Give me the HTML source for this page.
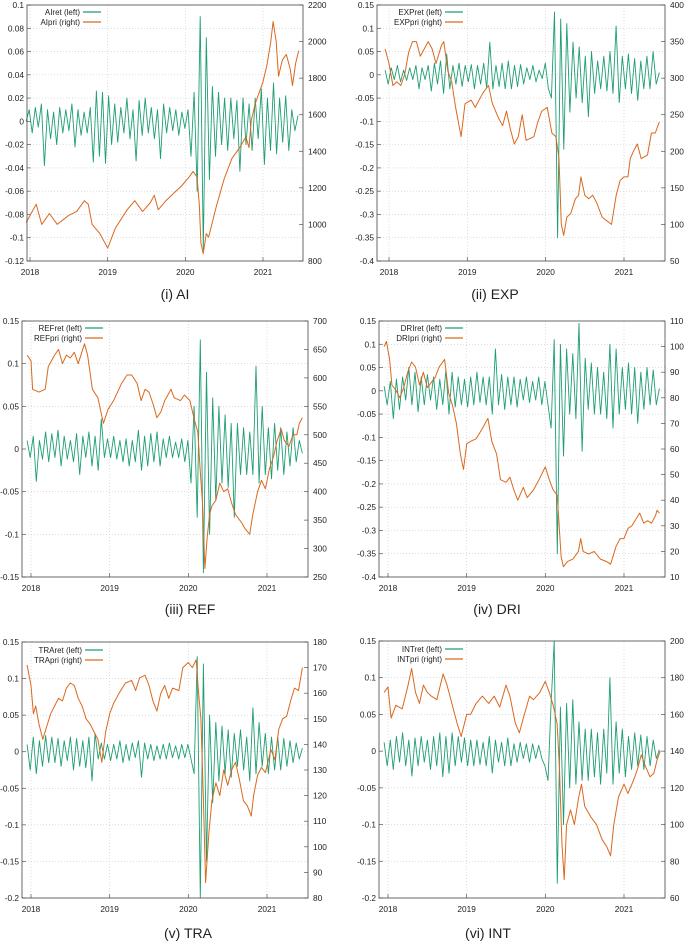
<!DOCTYPE html>
<html><head><meta charset="utf-8"><style>
html,body{margin:0;padding:0;background:#fff;width:685px;height:945px;overflow:hidden}
svg{display:block}
text{font-family:"Liberation Sans",sans-serif}
</style></head><body>
<svg id="fig" width="685" height="945" viewBox="0 0 685 945"></svg>
<script>
// ---- data ----
const aiPriDates=[2017.95,2018.08,2018.15,2018.25,2018.35,2018.5,2018.6,2018.7,2018.75,2018.8,2018.9,2019.0,2019.1,2019.25,2019.35,2019.45,2019.55,2019.6,2019.65,2019.75,2019.85,2019.95,2020.05,2020.1,2020.15,2020.18,2020.2,2020.23,2020.27,2020.3,2020.4,2020.5,2020.6,2020.7,2020.78,2020.82,2020.85,2020.9,2020.95,2021.0,2021.05,2021.1,2021.13,2021.17,2021.2,2021.25,2021.3,2021.35,2021.38,2021.42,2021.46];
const aiPri=[1010,1110,1000,1060,1000,1050,1070,1130,1110,1000,950,870,980,1080,1130,1070,1120,1160,1080,1130,1170,1210,1260,1290,1260,1110,900,840,950,930,1100,1250,1360,1420,1480,1420,1570,1660,1720,1780,1870,2000,2110,2000,1810,1900,1930,1850,1760,1880,1950];
const aiRet=[0,.01,-.01,.012,-.005,.015,-.038,.01,-.015,.008,-.02,.012,-.01,.01,-.008,.015,-.022,.01,-.012,.008,-.01,.012,-.035,.026,-.03,.025,-.036,.022,-.02,.015,-.018,.012,-.01,.02,-.015,.01,-.034,.018,-.012,.02,-.01,.012,-.015,.01,-.032,.015,-.01,.012,-.008,.01,-.012,.008,-.006,.01,-.03,.025,-.06,.09,-.11,.072,-.05,.03,-.03,.025,-.02,.02,-.025,.02,-.015,.018,-.043,.02,-.02,.015,-.025,.02,-.015,.028,-.037,.02,-.025,.033,-.028,.02,-.018,.022,-.025,.01,-.008,.005];

const expPriDates=[2017.95,2018.0,2018.05,2018.1,2018.15,2018.2,2018.25,2018.3,2018.35,2018.4,2018.45,2018.5,2018.55,2018.6,2018.67,2018.7,2018.75,2018.8,2018.85,2018.92,2018.97,2019.05,2019.1,2019.2,2019.27,2019.32,2019.4,2019.45,2019.5,2019.55,2019.6,2019.65,2019.7,2019.75,2019.85,2019.9,2019.95,2020.02,2020.08,2020.13,2020.17,2020.2,2020.23,2020.27,2020.32,2020.38,2020.42,2020.45,2020.5,2020.55,2020.6,2020.65,2020.72,2020.78,2020.84,2020.9,2020.95,2021.0,2021.05,2021.08,2021.12,2021.17,2021.22,2021.3,2021.35,2021.4,2021.45];
const expPri=[340,320,290,295,290,305,335,350,350,330,340,350,340,320,345,350,310,295,260,220,265,270,260,280,290,265,245,235,255,230,210,220,250,215,220,240,255,260,225,220,190,100,85,110,115,135,140,165,140,135,140,130,110,105,100,140,160,165,165,190,200,210,190,195,225,225,240];
const expRet=[.01,-.02,.015,-.01,.02,-.015,.01,-.012,.015,-.01,.02,-.03,.015,-.01,.02,-.035,.025,-.02,.03,-.04,.045,-.03,.02,-.02,.025,-.025,.02,-.015,.022,-.03,.02,-.02,.025,-.028,.07,-.03,.02,-.025,.025,-.03,.03,-.03,.02,-.025,.022,-.02,.015,-.01,.02,-.015,.01,-.008,.025,-.03,-.05,.135,-.35,.12,-.16,.11,-.08,.07,-.05,.06,-.06,.04,-.09,.05,-.04,.03,-.03,.04,-.035,.05,-.04,.105,-.06,.04,-.03,.045,-.04,.035,-.055,.03,-.03,.04,-.03,.05,-.02,.005];

const refPriDates=[2017.95,2018.0,2018.02,2018.1,2018.18,2018.22,2018.3,2018.35,2018.4,2018.45,2018.5,2018.55,2018.6,2018.68,2018.72,2018.78,2018.85,2018.92,2018.98,2019.05,2019.15,2019.22,2019.28,2019.35,2019.4,2019.45,2019.5,2019.55,2019.6,2019.65,2019.7,2019.78,2019.82,2019.9,2019.95,2020.02,2020.08,2020.12,2020.15,2020.18,2020.21,2020.24,2020.27,2020.3,2020.35,2020.4,2020.45,2020.5,2020.55,2020.6,2020.68,2020.72,2020.78,2020.82,2020.88,2020.93,2020.98,2021.03,2021.08,2021.13,2021.18,2021.22,2021.28,2021.33,2021.38,2021.41,2021.45];
const refPri=[640,630,580,575,580,620,640,650,625,640,635,645,625,660,640,580,565,520,545,560,590,605,605,590,560,580,575,555,530,540,560,580,565,560,570,560,525,505,440,380,265,320,360,375,385,415,400,405,380,360,345,335,325,360,400,420,405,440,460,490,510,490,480,500,500,520,530];
const refRet=[.01,-.01,.015,-.038,.01,-.012,.02,-.015,.018,-.01,.022,-.02,.015,-.012,.01,-.015,.018,-.03,.015,-.01,.02,-.02,.015,-.025,.035,-.01,.012,-.01,.015,-.012,.01,-.015,.012,-.02,.01,-.015,.022,-.025,.015,-.02,.018,-.015,.02,-.02,.012,-.01,.015,-.01,.008,-.01,.012,-.015,.01,-.04,.05,-.08,.128,-.145,.09,-.1,.06,-.06,.05,-.04,.04,-.045,.03,-.08,.03,-.03,.025,-.03,.02,-.03,.097,-.04,.05,-.03,.025,-.035,.03,-.025,.025,-.03,.02,-.02,.025,-.015,.01,-.005];

const driPriDates=[2017.95,2017.98,2018.02,2018.05,2018.1,2018.15,2018.2,2018.25,2018.3,2018.35,2018.4,2018.45,2018.5,2018.55,2018.6,2018.65,2018.72,2018.77,2018.82,2018.87,2018.92,2018.96,2019.0,2019.05,2019.12,2019.2,2019.27,2019.32,2019.38,2019.43,2019.5,2019.55,2019.6,2019.65,2019.72,2019.77,2019.85,2019.92,2020.0,2020.05,2020.1,2020.15,2020.17,2020.2,2020.23,2020.28,2020.35,2020.42,2020.45,2020.48,2020.55,2020.62,2020.7,2020.78,2020.83,2020.9,2020.95,2021.0,2021.05,2021.1,2021.2,2021.25,2021.3,2021.35,2021.4,2021.42,2021.45];
const driPri=[100,102,95,85,83,80,84,90,94,92,85,90,84,86,88,92,95,82,77,70,58,52,62,63,64,68,72,63,58,48,47,49,44,40,45,41,44,48,53,48,44,42,33,18,14,16,17,20,25,20,19,20,17,16,15,22,25,25,29,30,35,31,32,31,34,36,35];
const driRet=[.01,-.03,.02,-.06,.025,-.04,.03,-.02,.05,-.03,.04,-.045,.03,-.03,.035,-.02,.03,-.04,.025,-.03,.045,-.05,.04,-.035,.03,-.03,.025,-.035,.03,-.03,.04,-.025,.03,-.03,.03,-.05,.09,-.03,.035,-.04,.03,-.03,.03,-.035,.025,-.02,.03,-.025,.02,-.02,.03,-.03,.02,-.03,-.08,.11,-.35,.1,-.14,.09,-.05,.08,-.06,.145,-.13,.07,-.04,.06,-.05,.05,-.05,.04,-.06,.1,-.08,.09,-.05,.05,-.04,.06,-.05,.05,-.07,.04,-.04,.05,-.03,.045,-.03,.005];

const traPriDates=[2017.95,2018.0,2018.03,2018.06,2018.1,2018.15,2018.2,2018.25,2018.3,2018.35,2018.4,2018.45,2018.5,2018.55,2018.6,2018.65,2018.7,2018.75,2018.8,2018.85,2018.9,2018.95,2019.0,2019.05,2019.12,2019.2,2019.28,2019.33,2019.38,2019.45,2019.5,2019.55,2019.6,2019.65,2019.7,2019.75,2019.8,2019.88,2019.93,2020.0,2020.05,2020.1,2020.13,2020.16,2020.19,2020.22,2020.26,2020.3,2020.35,2020.4,2020.45,2020.5,2020.55,2020.6,2020.65,2020.7,2020.75,2020.8,2020.83,2020.88,2020.93,2020.98,2021.05,2021.1,2021.15,2021.2,2021.25,2021.3,2021.35,2021.4,2021.45];
const traPri=[171,163,152,155,148,142,147,152,155,158,157,162,164,163,158,155,150,148,145,142,133,145,152,156,160,164,165,161,166,167,163,157,153,160,163,158,162,161,170,172,170,173,160,150,120,86,105,118,125,120,130,124,130,133,126,118,116,112,120,128,131,129,138,134,146,150,151,157,162,161,170];
const traRet=[.01,-.025,.02,-.03,.015,-.02,.022,-.015,.02,-.015,.018,-.02,.015,-.012,.02,-.025,.018,-.02,.015,-.022,.02,-.04,.025,-.01,.012,-.01,.01,-.012,.01,-.01,.015,-.015,.01,-.012,.012,-.008,.015,-.035,.012,-.01,.01,-.012,.008,-.01,.01,-.01,.012,-.008,.008,-.01,.01,-.008,.01,-.01,-.03,.13,-.2,.12,-.15,.05,-.07,.04,-.04,.035,-.03,.03,-.035,.025,-.02,.03,-.025,.02,-.04,.06,-.03,.04,-.02,.025,-.03,.02,-.025,.02,-.025,.018,-.02,.015,-.015,.012,-.01,.005];

const intPriDates=[2017.95,2018.0,2018.04,2018.1,2018.18,2018.25,2018.3,2018.35,2018.4,2018.45,2018.5,2018.55,2018.62,2018.7,2018.75,2018.8,2018.88,2018.93,2019.0,2019.05,2019.12,2019.2,2019.28,2019.35,2019.42,2019.5,2019.55,2019.62,2019.67,2019.72,2019.8,2019.85,2019.93,2020.0,2020.05,2020.1,2020.15,2020.18,2020.21,2020.24,2020.27,2020.32,2020.37,2020.42,2020.46,2020.5,2020.58,2020.65,2020.72,2020.78,2020.83,2020.87,2020.93,2021.0,2021.05,2021.12,2021.17,2021.22,2021.27,2021.33,2021.38,2021.42,2021.46];
const intPri=[172,175,158,165,163,175,185,172,166,176,172,170,168,182,176,168,155,148,160,160,166,170,166,170,164,176,170,155,150,158,170,168,172,178,172,165,155,130,90,70,100,108,100,114,122,110,104,100,92,88,83,100,115,122,117,124,130,138,132,126,128,135,140];
const intRet=[.012,-.02,.015,-.025,.02,-.015,.025,-.02,.015,-.034,.018,-.02,.02,-.015,.015,-.025,.02,-.02,.025,-.035,.02,-.03,.025,-.02,.02,-.015,.018,-.02,.015,-.02,.015,-.018,.012,-.02,.02,-.03,.015,-.015,.012,-.02,.018,-.02,.01,-.015,.012,-.01,.01,-.015,.01,-.01,.008,-.01,-.02,-.04,.065,.15,-.18,.06,-.1,.065,-.05,.07,-.045,.04,-.04,.03,-.04,.03,-.035,.025,-.045,.03,-.03,.1,-.045,.04,-.03,.03,-.035,.02,-.025,.025,-.02,.022,-.025,.02,-.02,.015,-.01,.002];

const yearTicks=[2018,2019,2020,2021];

// ---- rendering ----
const NS="http://www.w3.org/2000/svg";
const svg=document.getElementById('fig');
function mk(tag,attrs,parent){const e=document.createElementNS(NS,tag);for(const k in attrs)e.setAttribute(k,attrs[k]);(parent||svg).appendChild(e);return e;}
function fmt(v){const r=Number(v.toFixed(3));return r===0?"0":String(r);}

const panels=[
 {key:'ai',name:'AI',title:'(i)',L:27,R:303,T:5,B:261,x18:30,x21:263,lmin:-0.12,lmax:0.1,lstep:0.02,rmin:800,rmax:2200,rstep:200,ret:aiRet,pd:aiPriDates,pv:aiPri,tx:175,ty:299,legX:80,legY:12},
 {key:'exp',name:'EXP',title:'(ii)',L:377,R:665,T:5,B:261,x18:389,x21:624,lmin:-0.4,lmax:0.15,lstep:0.05,rmin:50,rmax:400,rstep:50,ret:expRet,pd:expPriDates,pv:expPri,tx:495,ty:299,legX:442,legY:12},
 {key:'ref',name:'REF',title:'(iii)',L:22,R:308,T:321,B:577,x18:31,x21:267,lmin:-0.15,lmax:0.15,lstep:0.05,rmin:250,rmax:700,rstep:50,ret:refRet,pd:refPriDates,pv:refPri,tx:190,ty:614,legX:82,legY:328},
 {key:'dri',name:'DRI',title:'(iv)',L:379,R:665,T:321,B:577,x18:388,x21:624,lmin:-0.4,lmax:0.15,lstep:0.05,rmin:10,rmax:110,rstep:10,ret:driRet,pd:driPriDates,pv:driPri,tx:497,ty:614,legX:442,legY:328},
 {key:'tra',name:'TRA',title:'(v)',L:22,R:308,T:642,B:898,x18:31,x21:267,lmin:-0.2,lmax:0.15,lstep:0.05,rmin:80,rmax:180,rstep:10,ret:traRet,pd:traPriDates,pv:traPri,tx:188,ty:938,legX:82,legY:650},
 {key:'int',name:'INT',title:'(vi)',L:379,R:665,T:641,B:898,x18:388,x21:624,lmin:-0.2,lmax:0.15,lstep:0.05,rmin:60,rmax:200,rstep:20,ret:intRet,pd:intPriDates,pv:intPri,tx:488,ty:938,legX:442,legY:649}
];
const GREEN='#1f9e74', ORANGE='#d9691e';

panels.forEach(p=>{
  const g=mk('g',{});
  
  
  const xs=t=>p.x18+(t-2018)*(p.x21-p.x18)/3;
  const yl=v=>p.B-(v-p.lmin)/(p.lmax-p.lmin)*(p.B-p.T);
  const yr=v=>p.B-(v-p.rmin)/(p.rmax-p.rmin)*(p.B-p.T);
  // grid
  const nL=Math.round((p.lmax-p.lmin)/p.lstep);
  for(let i=0;i<=nL;i++){
    const v=p.lmin+i*p.lstep,y=yl(v);
    if(i>0&&i<nL){const gl=mk('line',{x1:p.L,x2:p.R,y1:y,y2:y,stroke:'#c8c8c8','stroke-width':0.6,'stroke-dasharray':'1,2'},g);
      
      }
    mk('line',{x1:p.L,x2:p.L+4,y1:y,y2:y,stroke:'#555','stroke-width':0.7},g);
    const t=mk('text',{x:p.L-3,y:y+3,'font-size':8.3,'text-anchor':'end',fill:'#222'},g);
    t.textContent=fmt(v);
    
    
  }
  const nR=Math.round((p.rmax-p.rmin)/p.rstep);
  for(let i=0;i<=nR;i++){
    const v=p.rmin+i*p.rstep,y=yr(v);
    mk('line',{x1:p.R-4,x2:p.R,y1:y,y2:y,stroke:'#555','stroke-width':0.7},g);
    const t=mk('text',{x:p.R+5,y:y+3,'font-size':8.3,fill:'#222'},g);
    t.textContent=String(Math.round(v));
    
    
  }
  yearTicks.forEach(yr0=>{
    const x=xs(yr0);
    const gl=mk('line',{x1:x,x2:x,y1:p.T,y2:p.B,stroke:'#c8c8c8','stroke-width':0.6,'stroke-dasharray':'1,2'},g);
    
    
    mk('line',{x1:x,x2:x,y1:p.B-4,y2:p.B,stroke:'#555','stroke-width':0.7},g);
    const t=mk('text',{x:x,y:p.B+14,'font-size':8.3,'text-anchor':'middle',fill:'#222'},g);
    t.textContent=String(yr0);
    
    
  });
  // returns
  const t0=2017.95,t1=2021.45,n=p.ret.length;
  let d='';
  p.ret.forEach((v,i)=>{const x=xs(t0+i*(t1-t0)/(n-1));d+=(i?'L':'M')+x.toFixed(1)+','+yl(v).toFixed(1);});
  const rl=mk('path',{d:d,fill:'none',stroke:GREEN,'stroke-width':0.9,'stroke-linejoin':'round'},g);
  
  
  // price
  let d2='';
  p.pv.forEach((v,i)=>{d2+=(i?'L':'M')+xs(p.pd[i]).toFixed(1)+','+yr(v).toFixed(1);});
  const pl=mk('path',{d:d2,fill:'none',stroke:ORANGE,'stroke-width':1,'stroke-linejoin':'round'},g);
  
  
  // frame
  const fr=mk('rect',{x:p.L,y:p.T,width:p.R-p.L,height:p.B-p.T,fill:'none',stroke:'#444','stroke-width':0.8},g);
  
  
  // legend
  [[p.name+'ret  (left)',GREEN,0],[p.name+'pri  (right)',ORANGE,10]].forEach(([s,c,dy],k)=>{
    const t=mk('text',{x:p.legX,y:p.legY+dy+3,'font-size':8,'text-anchor':'end',fill:'#222','xml:space':'preserve'},g);
    t.textContent=s;
    
    
    mk('line',{x1:p.legX+3,x2:p.legX+21,y1:p.legY+dy,y2:p.legY+dy,stroke:c,'stroke-width':1.2},g);
  });
  // title
  const tt=mk('text',{x:p.tx,y:p.ty,'font-size':14,'text-anchor':'middle',fill:'#222'},g);
  tt.textContent=p.title+' '+p.name;
  
  
});
</script>
</body></html>
